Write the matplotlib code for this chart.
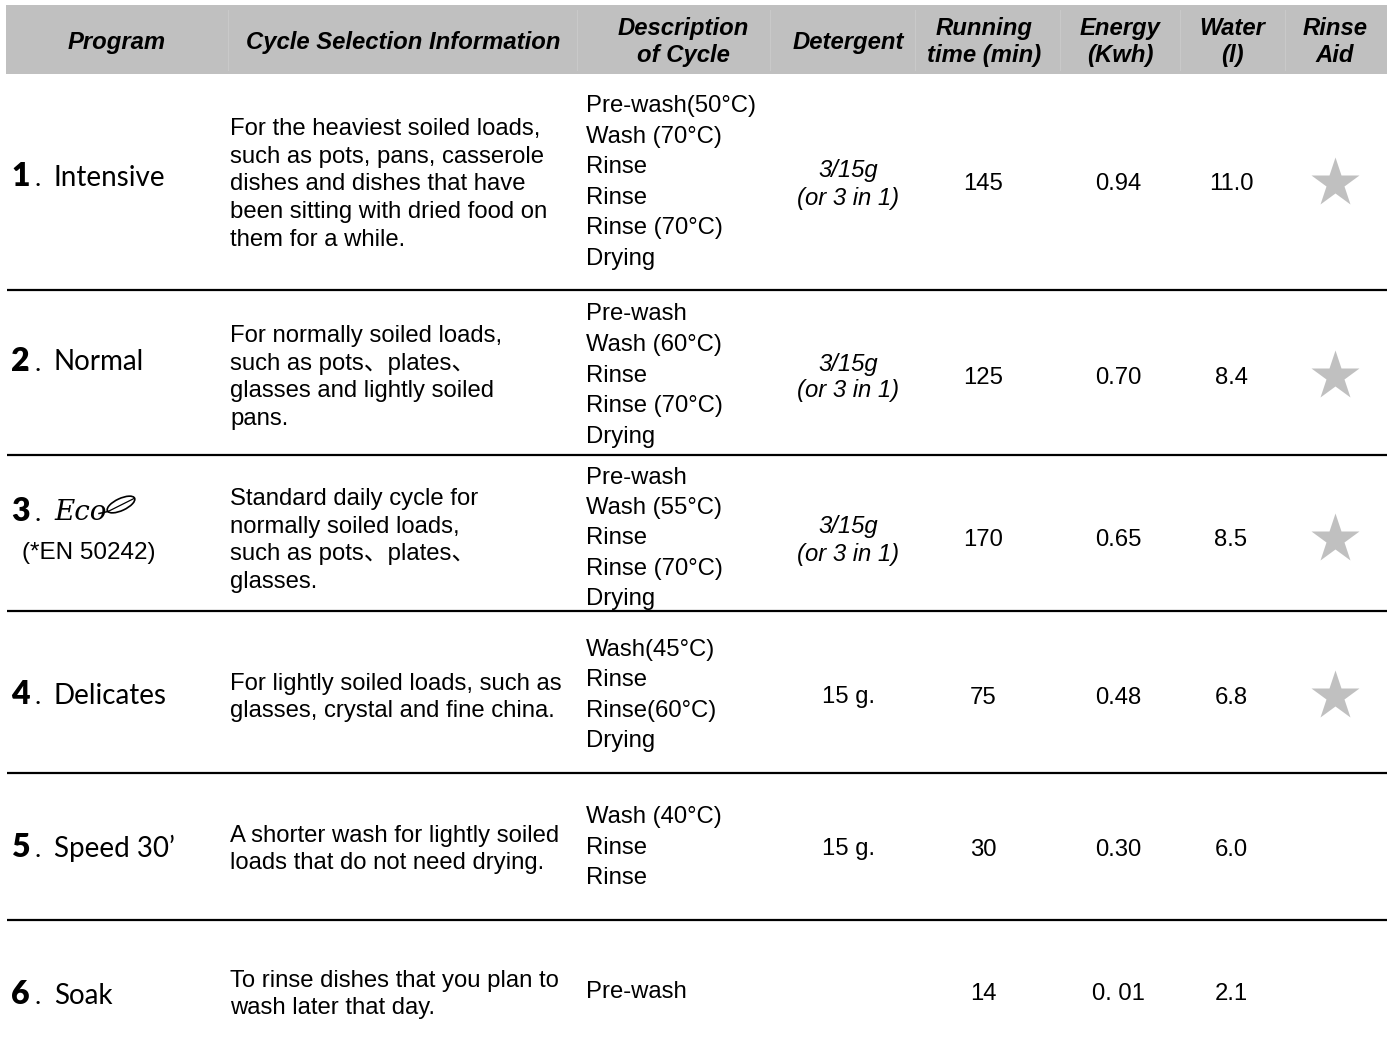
import matplotlib.pyplot as plt
from matplotlib.patches import Rectangle, Ellipse

# table content
numbers = ['1', '2', '3', '4', '5', '6']
programs = ['Intensive', 'Normal', 'Eco', 'Delicates', 'Speed 30\u2019', 'Soak']
cycle_info = [
    ['For the heaviest soiled loads,', 'such as pots, pans, casserole',
     'dishes and dishes that have', 'been sitting with dried food on', 'them for a while.'],
    ['For normally soiled loads,', 'such as pots\u3001plates\u3001',
     'glasses and lightly soiled', 'pans.'],
    ['Standard daily cycle for', 'normally soiled loads,',
     'such as pots\u3001plates\u3001', 'glasses.'],
    ['For lightly soiled loads, such as', 'glasses, crystal and fine china.'],
    ['A shorter wash for lightly soiled', 'loads that do not need drying.'],
    ['To rinse dishes that you plan to', 'wash later that day.'],
]
descriptions = [
    ['Pre-wash(50\u00b0C)', 'Wash (70\u00b0C)', 'Rinse', 'Rinse', 'Rinse (70\u00b0C)', 'Drying'],
    ['Pre-wash', 'Wash (60\u00b0C)', 'Rinse', 'Rinse (70\u00b0C)', 'Drying'],
    ['Pre-wash', 'Wash (55\u00b0C)', 'Rinse', 'Rinse (70\u00b0C)', 'Drying'],
    ['Wash(45\u00b0C)', 'Rinse', 'Rinse(60\u00b0C)', 'Drying'],
    ['Wash (40\u00b0C)', 'Rinse', 'Rinse'],
    ['Pre-wash'],
]
detergent = [['3/15g', '(or 3 in 1)'], ['3/15g', '(or 3 in 1)'], ['3/15g', '(or 3 in 1)'],
             ['15 g.'], ['15 g.'], []]
running_time = ['145', '125', '170', '75', '30', '14']
energy = ['0.94', '0.70', '0.65', '0.48', '0.30', '0. 01']
water = ['11.0', '8.4', '8.5', '6.8', '6.0', '2.1']
rinse_aid = [True, True, True, True, False, False]

headers = [['Program'], ['Cycle Selection Information'], ['Description', 'of Cycle'],
           ['Detergent'], ['Running', 'time (min)'], ['Energy', '(Kwh)'], ['Water', '(l)'],
           ['Rinse', 'Aid']]

# layout (pixels)
W, H = 1392, 1057
header_x = [117, 403, 683, 848, 984, 1120, 1232, 1335]
header_seps = [228, 577, 770, 915, 1060, 1180, 1285]
row_centers = [182, 375, 538, 695, 847, 992]
prog_y = [175, 360, 510, 693, 846, 993]
row_lines = [290, 455, 611, 773, 920]
info_step = 27.8
desc_step = 30.5
det_step = 27
dy = 2.5  # visual centre offset of matplotlib's 'center' alignment

fig = plt.figure(figsize=(W / 100, H / 100), dpi=100)
ax = fig.add_axes([0, 0, 1, 1])
ax.set_xlim(0, W)
ax.set_ylim(H, 0)
ax.axis('off')

body_font = 'Liberation Sans'
prog_font = 'Lato'
fs = 17.2

# header band
ax.add_patch(Rectangle((6, 5), 1381, 69, facecolor='#c0c0c0', edgecolor='none'))
for sx in header_seps:
    ax.plot([sx, sx], [10, 70], color='#c9c9c9', lw=0.8)
for hx, lines in zip(header_x, headers):
    ys = [40] if len(lines) == 1 else [26, 53]
    for ty, t in zip(ys, lines):
        ax.text(hx, ty + dy, t, ha='center', va='center', fontsize=fs, family=body_font,
                fontweight='bold', fontstyle='italic')

# row separators
for ly in row_lines:
    ax.plot([7, 1387], [ly, ly], color='black', lw=1.6, solid_capstyle='butt')

for i in range(len(programs)):
    yc = row_centers[i] + dy
    py = prog_y[i] + dy

    # program column
    ax.text(11, py - 1, numbers[i], ha='left', va='center', fontsize=23, family=prog_font,
            fontweight='heavy')
    ax.text(34, py + 1, '.', ha='left', va='center', fontsize=19, family=prog_font)
    if programs[i] == 'Eco':
        ax.text(54, py, 'Eco', ha='left', va='center', fontsize=20, family='DejaVu Serif',
                fontstyle='italic')
        ax.plot([99, 108], [py + 1, py - 1], color='black', lw=1.1)
        ax.add_patch(Ellipse((121, py - 8), 30, 12, angle=-25, facecolor='none',
                             edgecolor='black', lw=1.2))
        ax.plot([108, 134], [py - 1, py - 14], color='black', lw=0.9)
        ax.text(22, 551 + dy, '(*EN 50242)', ha='left', va='center', fontsize=17.5,
                family=body_font)
    else:
        ax.text(54, py, programs[i], ha='left', va='center', fontsize=20, family=prog_font)

    # cycle selection information
    lines = cycle_info[i]
    y0 = yc - (len(lines) - 1) / 2 * info_step
    for k, t in enumerate(lines):
        ax.text(230, y0 + k * info_step, t, ha='left', va='center', fontsize=fs,
                family=[body_font, 'Noto Sans CJK SC'])

    # description of cycle
    lines = descriptions[i]
    y0 = yc - 2 - (len(lines) - 1) / 2 * desc_step
    for k, t in enumerate(lines):
        ax.text(586, y0 + k * desc_step, t, ha='left', va='center', fontsize=fs, family=body_font)

    # detergent
    lines = detergent[i]
    y0 = yc - (len(lines) - 1) / 2 * det_step
    for k, t in enumerate(lines):
        ax.text(848, y0 + k * det_step, t, ha='center', va='center', fontsize=fs,
                family=body_font, fontstyle='italic' if len(lines) > 1 else 'normal')

    ax.text(983, yc, running_time[i], ha='center', va='center', fontsize=fs, family=body_font)
    ax.text(1118, yc, energy[i], ha='center', va='center', fontsize=fs, family=body_font)
    ax.text(1231, yc, water[i], ha='center', va='center', fontsize=fs, family=body_font)

# rinse aid stars
star_y = [row_centers[i] + 1 for i in range(len(rinse_aid)) if rinse_aid[i]]
ax.plot([1335] * len(star_y), star_y, linestyle='none', marker='*', ms=37,
        color='#c0c0c0', mec='none')

fig.savefig('out.png', dpi=100)
